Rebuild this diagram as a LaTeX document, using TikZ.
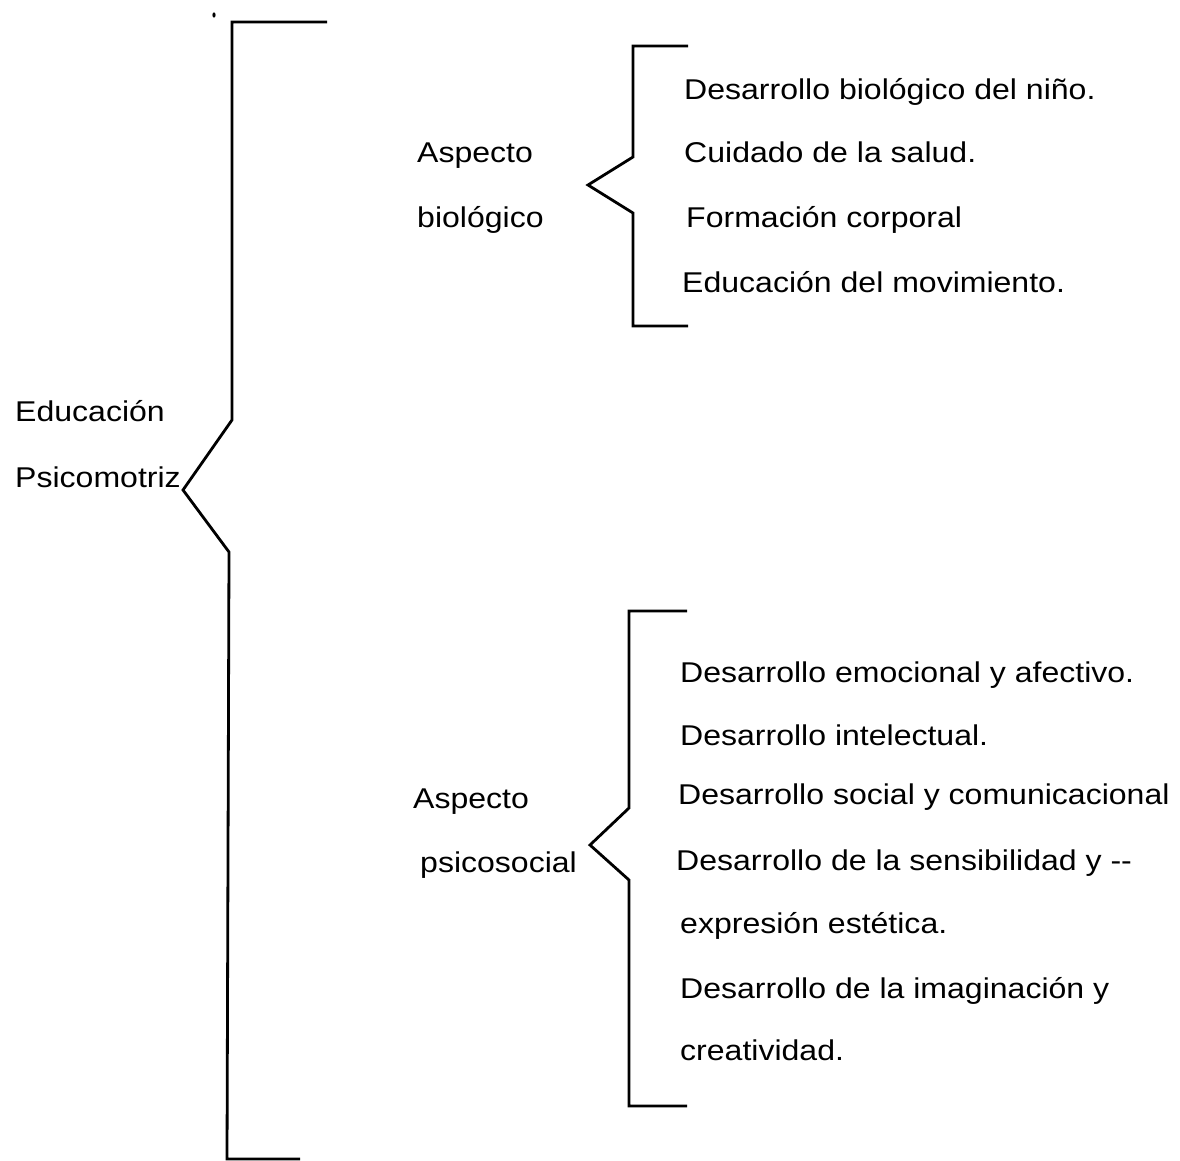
\documentclass[tikz,border=0pt]{standalone}
\usepackage{fontspec}
\setmainfont[FakeStretch=1.12,Ligatures=NoCommon]{Liberation Sans}
\begin{document}
\begin{tikzpicture}[x=1pt,y=-1pt,
  lbl/.style={anchor=base west,inner sep=0pt,font=\fontsize{28.6}{34}\selectfont},
  brk/.style={line width=2.8pt,line join=miter}]
\useasboundingbox (0,0) rectangle (1180,1161);
% main bracket
\coordinate (mtip) at (183,490);
\draw[brk] (327,22) -- (232,22) -- (232,420) -- (mtip) -- (229,552) -- (227,1159) -- (300,1159);
\fill (214,15) ellipse (1.6 and 2.6);
\node[lbl] (edu) at (15,421) {Educación};
\node[lbl] (psi) at (15,487) {Psicomotriz};
% biological bracket
\coordinate (btip) at (588,185);
\draw[brk] (688,46) -- (633,46) -- (633,157) -- (btip) -- (633,213) -- (633,326) -- (688,326);
\node[lbl] (asp1) at (417,163) {Aspecto};
\node[lbl] (bio) at (417,227) {biológico};
\node[lbl] (b1) at (684,100) {Desarrollo biológico del niño.};
\node[lbl] (b2) at (684,163) {Cuidado de la salud.};
\node[lbl] (b3) at (686,227) {Formación corporal};
\node[lbl] (b4) at (682,292) {Educación del movimiento.};
% psychosocial bracket
\coordinate (ptip) at (590,845);
\draw[brk] (687,611) -- (629,611) -- (629,808) -- (ptip) -- (629,880) -- (629,1106) -- (687,1106);
\node[lbl] (asp2) at (413,808) {Aspecto};
\node[lbl] (pso) at (420,872) {psicosocial};
\node[lbl] (p1) at (680,682) {Desarrollo emocional y afectivo.};
\node[lbl] (p2) at (680,745) {Desarrollo intelectual.};
\node[lbl] (p3) at (678,804) {Desarrollo social y comunicacional};
\node[lbl] (p4) at (676,870) {Desarrollo de la sensibilidad y \mbox{-}\mbox{-}};
\node[lbl] (p5) at (680,933) {expresión estética.};
\node[lbl] (p6) at (680,998) {Desarrollo de la imaginación y};
\node[lbl] (p7) at (680,1060) {creatividad.};
\end{tikzpicture}
\end{document}
